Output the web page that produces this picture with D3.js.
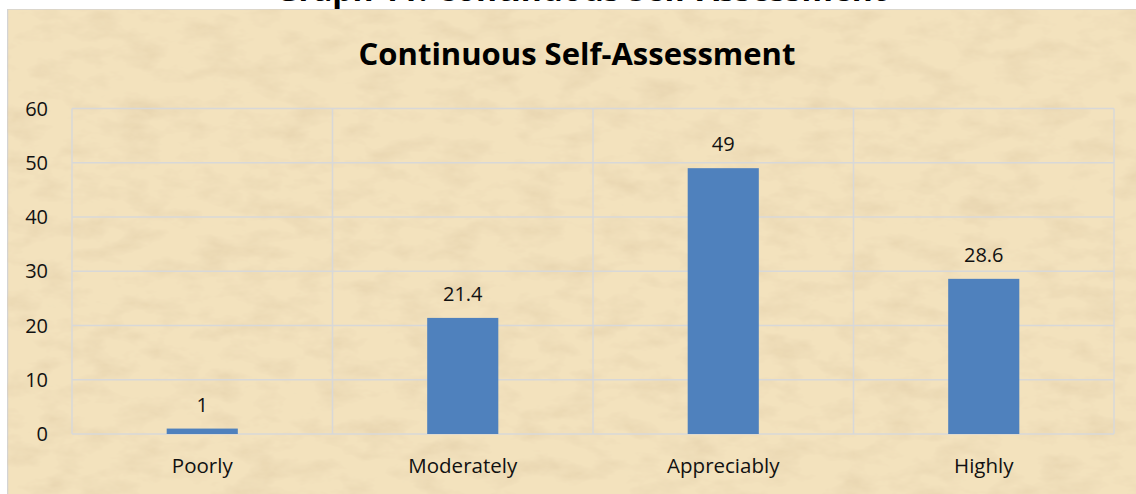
<!DOCTYPE html>
<html>
<head>
<meta charset="utf-8">
<script src="https://cdn.jsdelivr.net/npm/d3@7"></script>
<style>
  body { margin: 0; background: #ffffff; overflow: hidden; }
  svg { display: block; }
</style>
</head>
<body>
<script>
//chart data
var categories = ["Poorly", "Moderately", "Appreciably", "Highly"];
var values = [1, 21.4, 49, 28.6];
var yTicks = [0, 10, 20, 30, 40, 50, 60];

window.onload = function(){

    var w = 1136, h = 494;
    var font = "'Open Sans', sans-serif";

    var svg = d3.select("body")
        .append("svg")
        .attr("width", w)
        .attr("height", h);

    //parchment texture filter
    var defs = svg.append("defs");
    var filt = defs.append("filter")
        .attr("id", "paper")
        .attr("x", 0).attr("y", 0)
        .attr("width", "100%").attr("height", "100%");
    filt.append("feTurbulence")
        .attr("type", "fractalNoise")
        .attr("baseFrequency", "0.025 0.05")
        .attr("numOctaves", 4)
        .attr("seed", 3)
        .attr("result", "noise");
    filt.append("feColorMatrix")
        .attr("in", "noise")
        .attr("type", "matrix")
        .attr("values", "0 0 0 0 0.76  0 0 0 0 0.62  0 0 0 0 0.40  0 0 0 -1.3 0.74")
        .attr("result", "tint");
    filt.append("feComposite")
        .attr("in", "tint")
        .attr("in2", "SourceGraphic")
        .attr("operator", "atop");

    //cut-off heading above the chart (only its lower edge shows, as in the source)
    svg.append("text")
        .attr("x", 581)
        .attr("y", 1)
        .attr("text-anchor", "middle")
        .style("font-family", font)
        .style("font-weight", "bold")
        .style("font-size", "32px")
        .text("Graph 11: Continuous Self-Assessment");

    //chart box
    svg.append("rect")
        .attr("x", 7.5)
        .attr("y", 9)
        .attr("width", w)
        .attr("height", h)
        .style("fill", "#f3e2bd")
        .style("stroke", "#d4d4d4")
        .style("stroke-width", 1.5)
        .attr("filter", "url(#paper)");

    var left = 72, right = 1114, top = 108.5, bottom = 434;

    var x = d3.scaleBand()
        .domain(categories)
        .range([left, right])
        .padding(0);

    var y = d3.scaleLinear()
        .domain([0, 60])
        .range([bottom, top]);

    //horizontal gridlines
    svg.selectAll(".hgrid")
        .data(yTicks)
        .enter()
        .append("line")
        .attr("x1", left).attr("x2", right)
        .attr("y1", function(d){ return y(d); })
        .attr("y2", function(d){ return y(d); })
        .style("stroke", "#d8d8d8")
        .style("stroke-width", 1.5);

    //vertical gridlines at category edges
    var edges = categories.map(function(d){ return x(d); }).concat([right]);
    svg.selectAll(".vgrid")
        .data(edges)
        .enter()
        .append("line")
        .attr("x1", function(d){ return d; })
        .attr("x2", function(d){ return d; })
        .attr("y1", top).attr("y2", bottom)
        .style("stroke", "#d8d8d8")
        .style("stroke-width", 1.5);

    //bars
    var barW = x.bandwidth() * 0.273;
    svg.selectAll(".bar")
        .data(values)
        .enter()
        .append("rect")
        .attr("x", function(d, i){ return x(categories[i]) + (x.bandwidth() - barW) / 2; })
        .attr("y", function(d){ return y(d); })
        .attr("width", barW)
        .attr("height", function(d){ return bottom - y(d); })
        .style("fill", "#4f81bd");

    //value labels
    svg.selectAll(".val")
        .data(values)
        .enter()
        .append("text")
        .attr("x", function(d, i){ return x(categories[i]) + x.bandwidth() / 2; })
        .attr("y", function(d){ return y(d) - 17; })
        .attr("text-anchor", "middle")
        .style("font-family", font)
        .style("font-size", "20px")
        .style("fill", "#111")
        .text(function(d){ return d; });

    //y axis labels
    svg.selectAll(".ytick")
        .data(yTicks)
        .enter()
        .append("text")
        .attr("x", 48)
        .attr("y", function(d){ return y(d) + 7; })
        .attr("text-anchor", "end")
        .style("font-family", font)
        .style("font-size", "20px")
        .style("fill", "#111")
        .text(function(d){ return d; });

    //category labels
    svg.selectAll(".cat")
        .data(categories)
        .enter()
        .append("text")
        .attr("x", function(d){ return x(d) + x.bandwidth() / 2; })
        .attr("y", 473)
        .attr("text-anchor", "middle")
        .style("font-family", font)
        .style("font-size", "20.5px")
        .style("fill", "#111")
        .text(function(d){ return d; });

    //title
    svg.append("text")
        .attr("x", 577)
        .attr("y", 65)
        .attr("text-anchor", "middle")
        .style("font-family", font)
        .style("font-weight", "bold")
        .style("font-size", "31px")
        .style("fill", "#000")
        .text("Continuous Self-Assessment");
};
</script>
</body>
</html>
